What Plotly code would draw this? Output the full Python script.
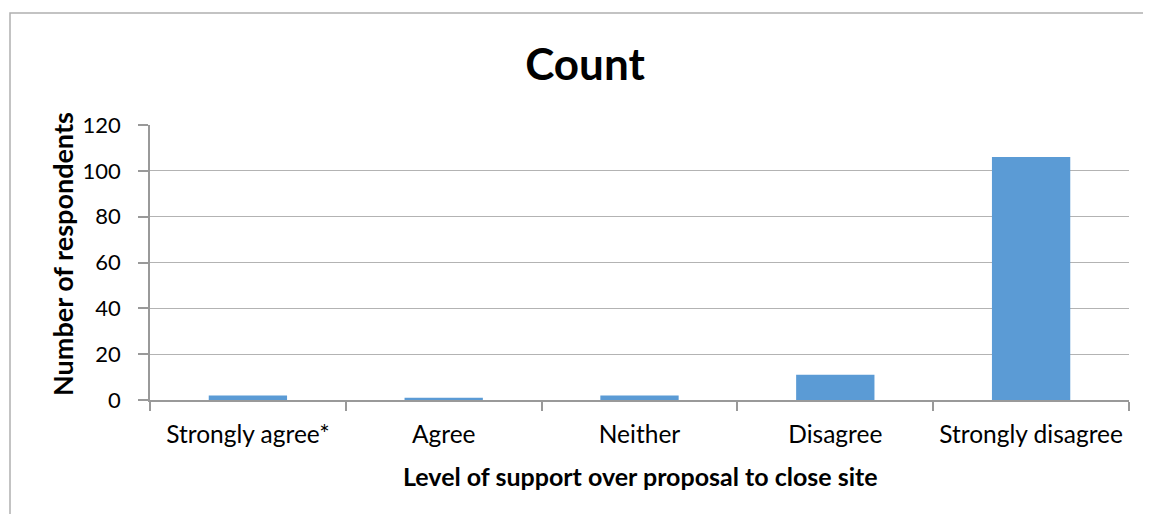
import plotly.graph_objects as go

categories = ["Strongly agree*", "Agree", "Neither", "Disagree", "Strongly disagree"]
counts = [2, 1, 2, 11, 106]
y_ticks = [0, 20, 40, 60, 80, 100, 120]

W, H = 1151, 514
OFF = 8  # page offset of the figure in the browser
# target screen positions of plot area
SX0, SX1, SY0, SY1 = 150, 1129, 125, 400
L = SX0 - OFF
R = W - (SX1 - OFF)
T = SY0 - OFF
B = H - (SY1 - OFF)

def px_x(sx):
    return (sx - SX0) / (SX1 - SX0)

def px_y(sy):
    return (SY1 - sy) / (SY1 - SY0)

FONT = "Lato"

fig = go.Figure(go.Bar(
    x=categories, y=counts,
    marker=dict(color="#5B9BD5", line=dict(width=0)),
    width=0.4,
))

fig.update_layout(
    width=W, height=H,
    margin=dict(l=L, r=R, t=T, b=B),
    paper_bgcolor="white", plot_bgcolor="white",
    font=dict(family=FONT, color="black", size=22),
    showlegend=False,
    title=dict(text="<b>Count</b>", x=(585 - OFF) / W, xref="container", xanchor="center",
               y=1 - (65 - OFF) / H, yref="container", yanchor="middle",
               font=dict(family=FONT, size=44, color="black")),
    xaxis=dict(
        type="category",
        showline=True, linecolor="#999999", linewidth=1.5,
        ticks="outside", tickson="boundaries", ticklen=9, tickcolor="#999999", tickwidth=1.5,
        ticklabelstandoff=12,
        showgrid=False,
        tickfont=dict(family=FONT, size=24.5),
    ),
    yaxis=dict(
        range=[0, 120], tickvals=y_ticks,
        showline=True, linecolor="#999999", linewidth=1.5,
        ticks="outside", ticklen=10, tickcolor="#999999", tickwidth=1.5,
        ticklabelstandoff=13,
        showgrid=True, gridcolor="#b3b3b3", gridwidth=1,
        zeroline=False,
        tickfont=dict(family=FONT, size=22),
    ),
    annotations=[
        dict(text="<b>Level of support over proposal to close site</b>", xref="paper", yref="paper",
             x=px_x(640), y=px_y(476), xanchor="center", yanchor="middle", showarrow=False,
             font=dict(family=FONT, size=25, color="black")),
        dict(text="<b>Number of respondents</b>", xref="paper", yref="paper",
             x=px_x(62), y=px_y(254), xanchor="center", yanchor="middle", showarrow=False,
             textangle=-90, font=dict(family=FONT, size=27, color="black")),
    ],
    shapes=[dict(type="rect", xref="paper", yref="paper",
                 x0=px_x(10), x1=px_x(1200), y0=px_y(600), y1=px_y(13),
                 line=dict(color="#b0b0b0", width=1.5), fillcolor="rgba(0,0,0,0)", layer="below")],
)

fig.write_html("out.html")
